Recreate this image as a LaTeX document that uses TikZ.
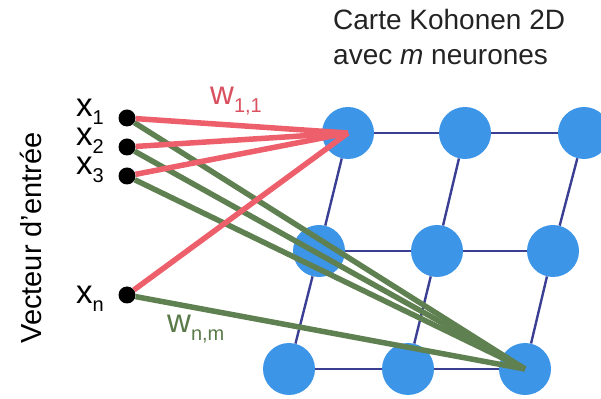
\documentclass[tikz,border=0pt]{standalone}
\usepackage{fontspec}
\setmainfont{Liberation Sans}
\usepackage{tikz}
\usetikzlibrary{positioning, calc}

\definecolor{neuronblue}{RGB}{61,149,232}
\definecolor{gridblue}{RGB}{59,63,148}
\definecolor{weightred}{RGB}{238,95,108}
\definecolor{weightgreen}{RGB}{95,128,80}
\definecolor{labelred}{RGB}{217,80,95}
\definecolor{labelgreen}{RGB}{90,122,74}
\definecolor{titlegray}{RGB}{35,35,35}

\newcommand{\lowsub}[1]{\raisebox{-8pt}{\fontsize{20}{20}\selectfont #1}}

\begin{document}
\begin{tikzpicture}[x=1pt, y=1pt, line join=round]
    % Styles
    \tikzset{
        neuron/.style={circle, fill=neuronblue, minimum size=52pt, inner sep=0pt},
        inputdot/.style={circle, fill=black, minimum size=17pt, inner sep=0pt},
        gridline/.style={line width=2.4pt, gridblue},
        weightfirst/.style={line width=5.5pt, weightred, line cap=butt},
        weightlast/.style={line width=5.5pt, weightgreen, line cap=butt},
        xlabel/.style={font=\fontsize{33}{33}\selectfont, inner sep=0pt, anchor=base east},
        wlabel/.style={font=\fontsize{33}{33}\selectfont, inner sep=0pt, anchor=base west},
        titletext/.style={font=\fontsize{28}{28}\selectfont, titlegray, inner sep=0pt, anchor=base west}
    }
    \useasboundingbox (0,0) rectangle (601,398);

    % --- Kohonen map (3 x 3 neurons, skewed grid) ---
    \node[neuron] (n11) at (348, 265) {};
    \node[neuron] (n12) at (465, 265) {};
    \node[neuron] (n13) at (584, 265) {};
    \node[neuron] (n21) at (319, 147) {};
    \node[neuron] (n22) at (437, 147) {};
    \node[neuron] (n23) at (553, 147) {};
    \node[neuron] (n31) at (289, 29) {};
    \node[neuron] (n32) at (408, 29) {};
    \node[neuron] (n33) at (525, 29) {};

    % grid links (border to border, so they stay behind the circles)
    \draw[gridline] (n11) -- (n12) -- (n13);
    \draw[gridline] (n21) -- (n22) -- (n23);
    \draw[gridline] (n31) -- (n32) -- (n33);
    \draw[gridline] (n11) -- (n21) -- (n31);
    \draw[gridline] (n12) -- (n22) -- (n32);
    \draw[gridline] (n13) -- (n23) -- (n33);

    % --- Input vector ---
    \node[inputdot] (x1) at (127, 280) {};
    \node[inputdot] (x2) at (127, 251) {};
    \node[inputdot] (x3) at (127, 222) {};
    \node[inputdot] (xn) at (127, 103) {};

    \node[xlabel] (lx1) at ($(x1)+(-23, 1)$) {x\lowsub{1}};
    \node[xlabel] (lx2) at ($(x2)+(-23, 1)$) {x\lowsub{2}};
    \node[xlabel] (lx3) at ($(x3)+(-23, 1)$) {x\lowsub{3}};
    \node[xlabel] (lxn) at ($(xn)+(-23, -9)$) {x\lowsub{n}};

    % Weights to the last neuron
    \draw[weightlast] (x1) -- (n33.center);
    \draw[weightlast] (x2) -- (n33.center);
    \draw[weightlast] (x3) -- (n33.center);
    \draw[weightlast] (xn) -- (n33.center);

    % Weights to the first neuron
    \draw[weightfirst] (x1) -- (n11.center);
    \draw[weightfirst] (x2) -- (n11.center);
    \draw[weightfirst] (x3) -- (n11.center);
    \draw[weightfirst] (xn) -- (n11.center);

    \node[wlabel, labelred] (w11) at (210, 293) {w\lowsub{1,1}};
    \node[wlabel, labelgreen] (wnm) at (167, 65) {w\lowsub{n,m}};

    % --- Texts ---
    \node[titletext] (title1) at (333, 368) {Carte Kohonen 2D};
    \node[titletext] (title2) at (333, 333) {avec \textit{m} neurones};
    \node[rotate=90, anchor=base, inner sep=0pt, font=\fontsize{29}{29}\selectfont] (vlabel) at (41, 160) {Vecteur d'entrée};

\end{tikzpicture}
\end{document}
